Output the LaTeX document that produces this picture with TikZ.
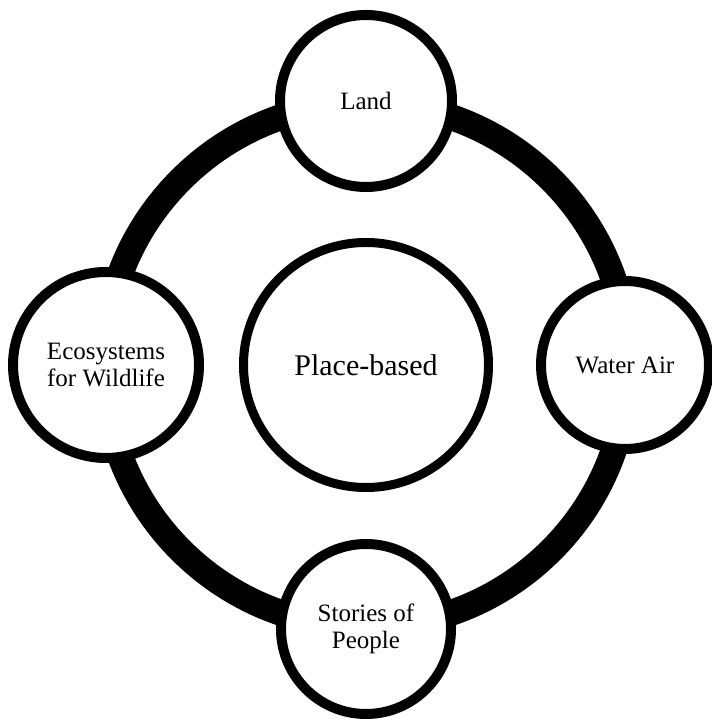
\documentclass[tikz,border=0pt]{standalone}
\usepackage{fontspec}
\setmainfont{Liberation Serif}
\usetikzlibrary{positioning}

\begin{document}
\begin{tikzpicture}[x=1pt, y=1pt,
		topic/.style={draw, circle, line width=10pt, fill=white, align=center, inner sep=0pt, font=\fontsize{25}{27}\selectfont},
		hubnode/.style={draw, circle, line width=9pt, fill=white, minimum size=245pt, inner sep=0pt, font=\fontsize{30}{32}\selectfont},
		ring/.style={line width=26pt}]
		
		\useasboundingbox (0,0) rectangle (711,719);
		
		% Centre
		\node (hub) [hubnode] at (366,354) {Place-based};
		
		% Ring
		\draw[ring] (hub.center) circle[radius=262pt];
		
		% Topics round the ring
		\node (land) [topic, minimum size=172pt, on grid, above=264pt of hub] {Land};
		\node (water) [topic, minimum size=168pt, on grid, right=259pt of hub] {Water Air};
		\node (stories) [topic, minimum size=170pt, on grid, below=264pt of hub] {Stories of\\People};
		\node (eco) [topic, minimum size=186pt, on grid, left=260pt of hub] {Ecosystems\\for Wildlife};
		
	\end{tikzpicture}
\end{document}
